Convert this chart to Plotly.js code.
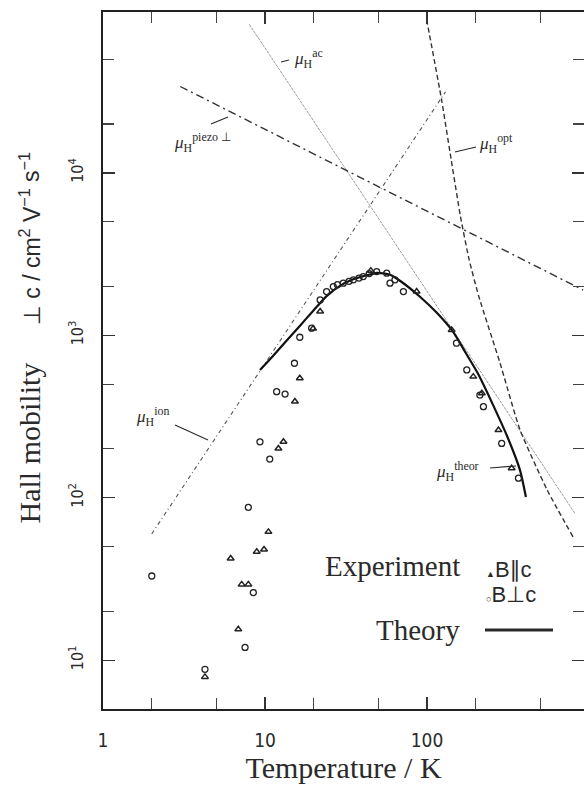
<!DOCTYPE html>
<html><head><meta charset="utf-8">
<script src="https://cdn.plot.ly/plotly-3.0.1.min.js"></script>
<style>html,body{margin:0;padding:0;background:#fff;overflow:hidden}</style>
</head><body>
<div id="chart" style="width:584px;height:793px"></div>
<script>
// ---- data ----
const tempParallel = [4.26, 6.14, 6.84, 7.18, 7.89, 8.89, 9.86, 10.5, 12.1, 13.0, 15.3, 16.4, 19.8, 21.9, 45, 86.3, 142, 193, 218, 276, 333];
const muParallel   = [7.9, 42.3, 15.5, 29.3, 29.3, 46.5, 48.1, 61.7, 201, 221, 391, 544, 1100, 1400, 2500, 1858, 1080, 557, 440, 261, 152];
const tempPerp = [2.0, 4.26, 7.53, 7.89, 8.47, 9.31, 10.7, 11.8, 13.3, 15.2, 16.4, 19.4, 21.9, 24.0, 26.4, 28.0, 30.4, 33.0, 35.1, 38.0, 40.4, 44.0, 48.9, 56.4, 59.1, 63.4, 71.5, 152, 176, 212, 223, 289, 367];
const muPerp   = [33, 8.8, 12.0, 87.3, 26.1, 221, 173, 450, 435, 673, 973, 1107, 1652, 1858, 1995, 2050, 2094, 2150, 2195, 2250, 2300, 2400, 2469, 2414, 2094, 2195, 1858, 894, 612, 429, 364, 216, 132];
const tempTheory = [9.31, 11.2, 13.7, 16.4, 19.8, 24.1, 29.0, 34.4, 41.4, 49.1, 59.1, 68.1, 90.5, 115, 145, 172, 207, 256, 312, 375, 408];
const muTheory   = [612, 747, 937, 1143, 1413, 1749, 2017, 2198, 2325, 2425, 2359, 2167, 1727, 1375, 1050, 790, 578, 372, 240, 148, 101];
const tempIon = [2, 130];     const muIon = [60, 31500];
const tempPiezo = [3, 920];   const muPiezo = [34000, 1900];
const tempAc = [8, 820];      const muAc = [82000, 80];
const tempOpt = [99.5, 123, 141, 161, 182, 209, 282, 375, 551, 797];
const muOpt   = [87700, 28200, 12060, 5370, 2920, 1730, 678, 262, 112, 57.4];

const xTickVals = [1, 10, 100];
const xTickText = ['1', '10', '100'];
const xMinorVals = [2, 5, 20, 50, 200, 500];
const yTickVals = [10, 100, 1000, 10000];
const yTickText = ['10<sup>1</sup>', '10<sup>2</sup>', '10<sup>3</sup>', '10<sup>4</sup>'];
const yMinorVals = [20, 50, 200, 500, 2000, 5000, 20000, 50000];

// ---- geometry ----
const W = 584, H = 793, ML = 103, MT = 12, MB = 84, MR = 0;
const PW = W - ML - MR, PH = H - MT - MB;
const px = v => (v - ML) / PW;          // pixel -> paper x
const py = v => (H - MB - v) / PH;      // pixel -> paper y

const serif = 'Liberation Serif, Times New Roman, serif';
const sans = 'Liberation Sans, Arial, DejaVu Sans, sans-serif';
const narrow = 'Liberation Sans Narrow, Arial Narrow, DejaVu Sans Condensed, Liberation Sans, sans-serif';
const ink = '#2a2a2a';

const traces = [
  {x: tempAc, y: muAc, mode: 'lines', name: 'μH ac', line: {color: '#9a9a9a', width: 1, dash: '3px,1px'}},
  {x: tempPiezo, y: muPiezo, mode: 'lines', name: 'μH piezo ⊥', line: {color: '#333', width: 1.4, dash: '8px,4px,2px,4px'}},
  {x: tempIon, y: muIon, mode: 'lines', name: 'μH ion', line: {color: '#555', width: 1.1, dash: '4px,3px,1px,3px'}},
  {x: tempOpt, y: muOpt, mode: 'lines', name: 'μH opt', line: {color: '#333', width: 1.4, dash: '5px,3px', shape: 'spline', smoothing: 0.5}},
  {x: tempTheory, y: muTheory, mode: 'lines', name: 'Theory', line: {color: '#111', width: 2.2, shape: 'spline', smoothing: 0.6}},
  {x: tempParallel, y: muParallel, mode: 'markers', name: 'B∥c', marker: {symbol: 'triangle-up-open', size: 6, color: '#222', line: {width: 1.5, color: '#222'}}},
  {x: tempPerp, y: muPerp, mode: 'markers', name: 'B⊥c', marker: {symbol: 'circle-open', size: 6, color: '#222', line: {width: 1.3, color: '#222'}}}
];

function lbl(text, x, y, size) {
  return {text: text, xref: 'paper', yref: 'paper', x: px(x), y: py(y), xanchor: 'left', yanchor: 'middle',
          showarrow: false, font: {family: serif, size: size || 17, color: ink}};
}
function seg(x0, y0, x1, y1, w) {
  return {type: 'line', xref: 'paper', yref: 'paper', x0: px(x0), y0: py(y0), x1: px(x1), y1: py(y1),
          line: {color: ink, width: w || 1.2}};
}

const annotations = [
  lbl('<i>μ</i><sub>H</sub><sup>ac</sup>', 292, 58),
  lbl('<i>μ</i><sub>H</sub><sup>piezo ⊥</sup>', 172, 142),
  lbl('<i>μ</i><sub>H</sub><sup>opt</sup>', 477, 143),
  lbl('<i>μ</i><sub>H</sub><sup>ion</sup>', 134, 416),
  lbl('<i>μ</i><sub>H</sub><sup>theor</sup>', 434, 472),
  {text: 'Hall mobility\u00a0\u00a0\u00a0\u00a0\u00a0<span style="font-family:' + sans + ';font-size:23px">⊥ c / cm<sup>2</sup> V<sup>−1</sup> s<sup>−1</sup></span>',
   xref: 'paper', yref: 'paper', x: px(29), y: py(526), xanchor: 'center', yanchor: 'bottom', textangle: -90,
   showarrow: false, font: {family: serif, size: 30, color: ink}},
  {text: 'Experiment', xref: 'paper', yref: 'paper', x: px(462), y: py(566), xanchor: 'right', yanchor: 'middle',
   showarrow: false, font: {family: serif, size: 29, color: ink}},
  {text: '<span style="font-size:9px">▲</span>B∥c', xref: 'paper', yref: 'paper', x: px(484), y: py(569), xanchor: 'left', yanchor: 'middle',
   showarrow: false, font: {family: sans, size: 22, color: ink}},
  {text: '<span style="font-size:9px">○</span>B⊥c', xref: 'paper', yref: 'paper', x: px(484), y: py(594), xanchor: 'left', yanchor: 'middle',
   showarrow: false, font: {family: sans, size: 22, color: ink}},
  {text: 'Theory', xref: 'paper', yref: 'paper', x: px(462), y: py(630), xanchor: 'right', yanchor: 'middle',
   showarrow: false, font: {family: serif, size: 29, color: ink}}
];

const shapes = [
  seg(281, 62, 289, 60),
  seg(211, 124, 228, 117),
  seg(455, 152, 476, 147),
  seg(175, 425, 208, 440),
  seg(490, 468, 516, 466),
  seg(485, 630, 553, 630, 3)
];

const axisCommon = {
  type: 'log', showgrid: false, zeroline: false, showline: true, linecolor: '#222', linewidth: 2,
  mirror: 'allticks', ticks: 'inside', ticklen: 12, tickwidth: 1.3, tickcolor: '#333', tickmode: 'array'
};
const minorCommon = {tickmode: 'array', ticks: 'inside', ticklen: 11, tickwidth: 1.2, tickcolor: '#444', showgrid: false};

const layout = {
  width: W, height: H, margin: {l: ML, r: MR, t: MT, b: MB, pad: 0},
  paper_bgcolor: '#fff', plot_bgcolor: '#fff', showlegend: false,
  xaxis: Object.assign({}, axisCommon, {
    range: [0, PW / 162],
    tickvals: xTickVals, ticktext: xTickText, ticklabelstandoff: 13,
    tickfont: {family: narrow, size: 19, color: ink},
    minor: Object.assign({tickvals: xMinorVals}, minorCommon),
    title: {text: 'Temperature / K', font: {family: serif, size: 30, color: ink}, standoff: 6}
  }),
  yaxis: Object.assign({}, axisCommon, {
    range: [0.7, 4.99],
    tickvals: yTickVals, ticktext: yTickText, tickangle: -90, ticklabelstandoff: 12,
    tickfont: {family: narrow, size: 16, color: ink},
    minor: Object.assign({tickvals: yMinorVals}, minorCommon)
  }),
  annotations: annotations, shapes: shapes
};

Plotly.newPlot('chart', traces, layout, {displayModeBar: false, staticPlot: true});
</script>
</body></html>
